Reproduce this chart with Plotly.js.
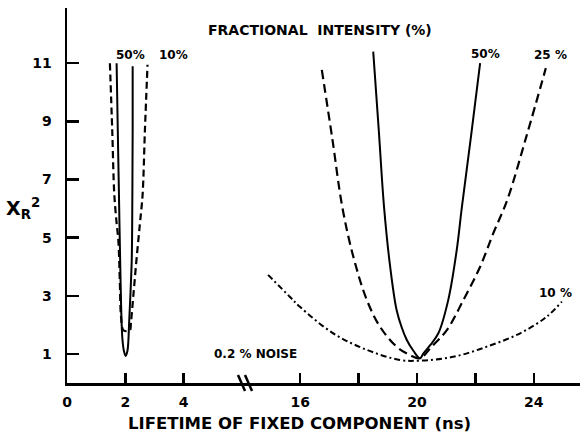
<!DOCTYPE html>
<html>
<head>
<meta charset="utf-8">
<script src="https://cdn.plot.ly/plotly-3.0.1.min.js"></script>
<style>html,body{margin:0;padding:0;background:#fff;}#chart{width:580px;height:435px;}</style>
</head>
<body>
<div id="chart"></div>
<script>
// Left panel (short lifetime, ~2 ns)
const left50X = [1.70, 1.74, 1.78, 1.82, 1.87, 1.90, 1.95, 2.01, 2.07, 2.10, 2.13, 2.18, 2.22, 2.24, 2.25, 2.25];
const left50Y = [11.0, 8.7, 6.5, 4.3, 2.1, 1.5, 1.1, 0.93, 1.1, 1.4, 2.1, 3.2, 4.3, 6.5, 8.7, 10.9];
const left10X = [1.47, 1.55, 1.62, 1.70, 1.76, 1.81, 1.85, 1.93, 2.05, 2.16, 2.19, 2.29, 2.39, 2.50, 2.59, 2.67, 2.76];
const left10Y = [11.0, 8.7, 6.5, 5.5, 4.9, 3.5, 2.3, 1.82, 1.78, 1.82, 2.06, 3.2, 4.34, 5.5, 6.47, 8.7, 10.95];
// Right panel (long lifetime, ~20 ns)
const right50X = [18.50, 18.69, 18.87, 19.08, 19.30, 19.48, 19.65, 19.88, 20.10, 20.22, 20.45, 20.73, 21.07, 21.36, 21.53, 21.85, 22.16];
const right50Y = [11.4, 8.7, 6.06, 4.0, 2.51, 1.9, 1.48, 1.1, 0.85, 1.02, 1.3, 1.71, 2.86, 4.58, 6.01, 8.5, 11.0];
const right25X = [16.74, 17.10, 17.44, 17.82, 18.28, 18.73, 19.30, 19.76, 20.10, 20.50, 21.02, 21.59, 22.16, 22.61, 23.09, 23.75, 24.41];
const right25Y = [10.77, 8.4, 6.06, 4.34, 2.86, 1.94, 1.25, 0.96, 0.85, 1.25, 1.82, 2.86, 4.0, 5.15, 6.30, 8.5, 10.83];
const right10X = [14.90, 15.65, 15.99, 17.13, 18.28, 19.42, 20.10, 21.24, 22.39, 23.53, 24.44, 24.96];
const right10Y = [3.72, 2.96, 2.62, 1.71, 1.14, 0.79, 0.77, 0.90, 1.25, 1.71, 2.28, 2.80];

const yTicks = [1, 3, 5, 7, 9, 11];
const leftXTicks = [0, 2, 4];
const rightXMajorStep = 4;   // labelled ticks 16, 20, 24
const rightXMinorStep = 2;   // unlabelled ticks 18, 22

const FONT = 'DejaVu Sans, Verdana, sans-serif';
const dashLong = '9px,5px';

const traces = [
  {x: left50X, y: left50Y, xaxis: 'x', yaxis: 'y', mode: 'lines', line: {color: '#000', width: 2, shape: 'spline'}},
  {x: left10X, y: left10Y, xaxis: 'x', yaxis: 'y', mode: 'lines', line: {color: '#000', width: 2.2, dash: '7px,4px', shape: 'spline'}},
  {x: right50X, y: right50Y, xaxis: 'x2', yaxis: 'y', mode: 'lines', line: {color: '#000', width: 2, shape: 'spline'}},
  {x: right25X, y: right25Y, xaxis: 'x2', yaxis: 'y', mode: 'lines', line: {color: '#000', width: 2.2, dash: dashLong, shape: 'spline'}},
  {x: right10X, y: right10Y, xaxis: 'x2', yaxis: 'y', mode: 'lines', line: {color: '#000', width: 2, dash: '6px,3px,2px,3px', shape: 'spline'}}
];

const axisCommon = {
  showgrid: false, zeroline: false, showline: true, linecolor: '#000', linewidth: 2.5,
  ticks: 'inside', tickcolor: '#000', tickwidth: 2.5,
  tickfont: {family: FONT, size: 14, color: '#000', weight: 'bold'}
};

const txt = (text, x, y, size, extra) => Object.assign({
  text: text, x: x, y: y, xref: 'paper', yref: 'paper', showarrow: false,
  xanchor: 'center', yanchor: 'middle',
  font: {family: FONT, size: size, color: '#000', weight: 'bold'}
}, extra || {});

const W = 513, H = 375, L = 67, T = 8;
const px = v => (v - L) / W;
const py = v => (T + H - v) / H;

const layout = {
  width: 580, height: 435,
  margin: {l: L, r: 0, t: T, b: 52},
  paper_bgcolor: '#fff', plot_bgcolor: '#fff',
  showlegend: false, hovermode: false,
  xaxis: Object.assign({}, axisCommon, {domain: [0, 0.347], range: [0, 6.10], tickvals: leftXTicks, ticklen: 10, ticklabelstandoff: 5, anchor: 'y'}),
  xaxis2: Object.assign({}, axisCommon, {domain: [0.347, 1], range: [14.11, 25.58], tickmode: 'linear', tick0: 0, dtick: rightXMajorStep, ticklen: 10, ticklabelstandoff: 5, anchor: 'y',
    minor: {tickmode: 'linear', tick0: 0, dtick: rightXMinorStep, ticks: 'inside', ticklen: 10, tickwidth: 2.5, tickcolor: '#000', showgrid: false}}),
  yaxis: Object.assign({}, axisCommon, {range: [0, 12.9], tickvals: yTicks, ticklen: 12, ticklabelstandoff: 10, anchor: 'x'}),
  annotations: [
    txt('FRACTIONAL  INTENSITY (%)', px(320), py(30), 14),
    txt('50%', px(130), py(55), 12),
    txt('10%', px(173), py(55), 12),
    txt('50%', px(485), py(54), 12),
    txt('25 %', px(550), py(55), 12),
    txt('10 %', px(555), py(293), 12),
    txt('0.2 % NOISE', px(255), py(354), 12),
    txt('LIFETIME OF FIXED COMPONENT (ns)', px(299), py(423), 16.5),
    txt('Χ<sub>R</sub><sup>2</sup>', px(23), py(208), 19)
  ],
  shapes: [
    {type: 'line', xref: 'paper', yref: 'paper', x0: px(238), y0: py(375), x1: px(245), y1: py(391), line: {color: '#000', width: 2.5}},
    {type: 'line', xref: 'paper', yref: 'paper', x0: px(245), y0: py(375), x1: px(252), y1: py(391), line: {color: '#000', width: 2.5}}
  ]
};

Plotly.newPlot('chart', traces, layout, {staticPlot: true, displayModeBar: false});
</script>
</body>
</html>
